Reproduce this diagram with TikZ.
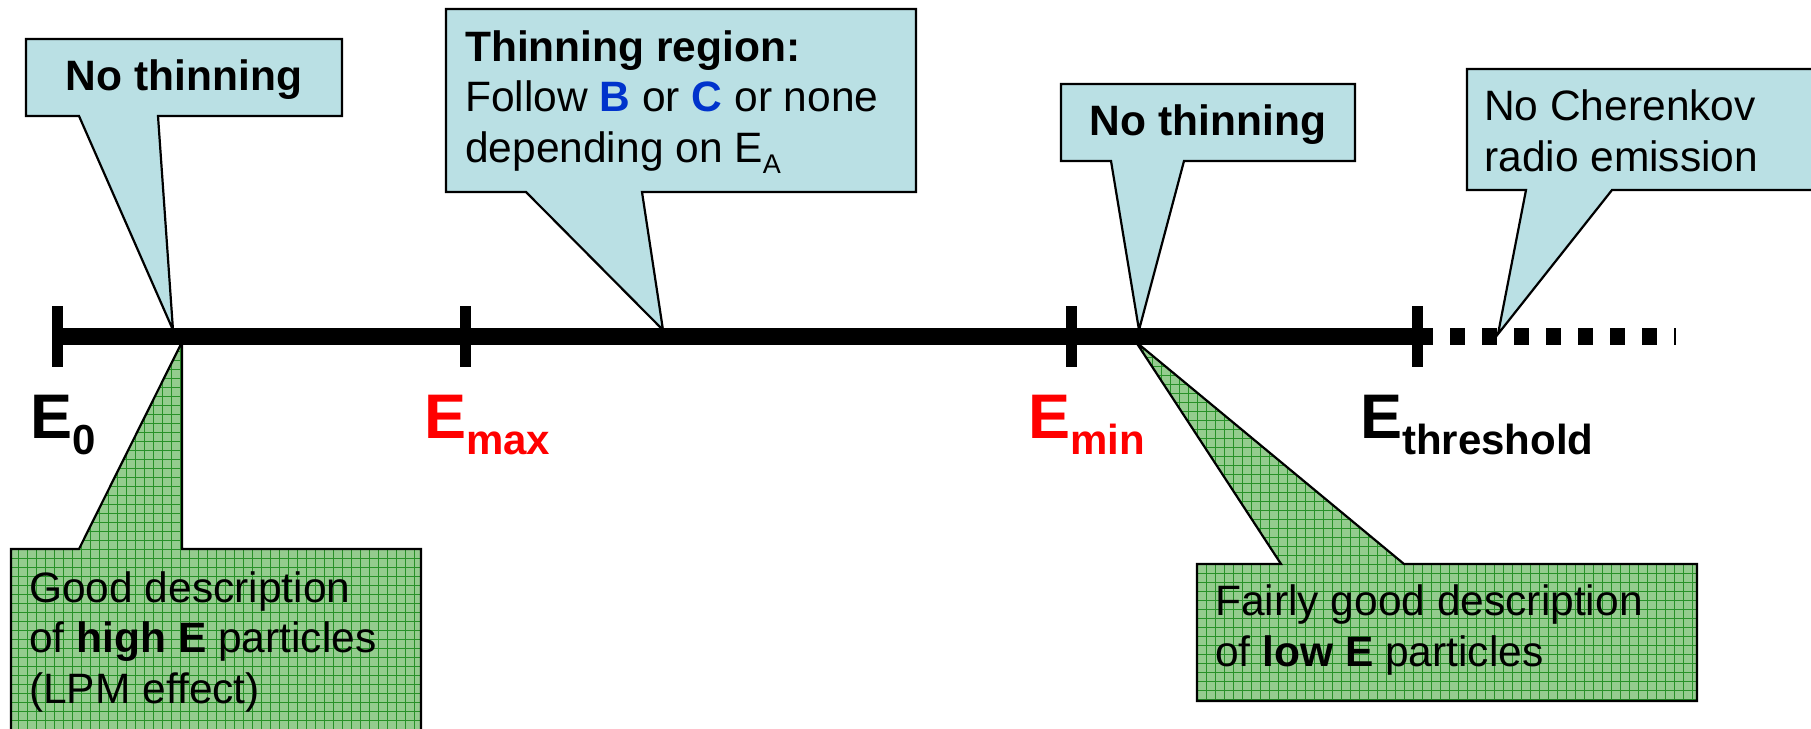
\documentclass[tikz,border=0pt]{standalone}
\usepackage{fontspec}
\setmainfont{Liberation Sans}
\definecolor{calloutblue}{RGB}{186,224,228}
\definecolor{notegreen}{RGB}{148,204,142}
\definecolor{gridgreen}{RGB}{40,145,40}
\definecolor{letterblue}{RGB}{0,51,204}
\definecolor{labelred}{RGB}{255,0,0}
% energy label: big E with a lowered subscript
\newcommand{\energylabel}[1]{E\raisebox{-16pt}{\fontsize{42}{42}\selectfont #1}}
% grid hatching of the green notes, inside the box x1..x2, y1..y2 (9pt raster)
\newcommand{\notegrid}[4]{%
  \foreach \gx in {#1,\the\numexpr#1+9\relax,...,#2} \draw[gridlines] (\gx,#3) -- (\gx,#4);
  \foreach \gy in {#3,\the\numexpr#3+9\relax,...,#4} \draw[gridlines] (#1,\gy) -- (#2,\gy);}
\begin{document}
\begin{tikzpicture}[x=1pt,y=-1pt,
  bluecallout/.style={draw=black,line width=2.2pt,fill=calloutblue,line join=miter},
  greenedge/.style={draw=black,line width=2.2pt,line join=miter},
  gridlines/.style={draw=gridgreen,line width=0.8pt},
  bodytext/.style={font=\fontsize{42.5}{50.5}\selectfont,inner sep=0pt,anchor=base west,align=left},
  boldtext/.style={font=\fontsize{42.5}{50.5}\selectfont\bfseries,inner sep=0pt,anchor=base},
  elabel/.style={font=\fontsize{63}{63}\selectfont\bfseries,inner sep=0pt,anchor=base west},
  axisline/.style={line width=17pt},
  tickline/.style={line width=11pt},
  dotline/.style={line width=17pt,dash pattern=on 15pt off 17pt,dash phase=15pt}]
\useasboundingbox (0,0) rectangle (1811,728);
\clip (0,0) rectangle (1811,728);

% points on the energy axis
\coordinate (axisstart) at (52,336);
\coordinate (axisend) at (1433,336);
\coordinate (dotend) at (1676,336);
\coordinate (tipA) at (173,330);
\coordinate (tipB) at (663,330);
\coordinate (tipC) at (1139,330);
\coordinate (tipD) at (1498,334);
\coordinate (tipG1) at (182,342);
\coordinate (tipG2) at (1136,342);

% green notes below the axis (grid-patterned fill)
\def\greenone{(11,549) -- (79,549) -- (tipG1) -- (182,549) -- (421,549) -- (421,745) -- (11,745) -- cycle}
\def\greentwo{(1197,564) -- (1281,564) -- (tipG2) -- (1404,564) -- (1697,564) -- (1697,701) -- (1197,701) -- cycle}
\begin{scope}
  \clip \greenone;
  \fill[notegreen] (0,300) rectangle (440,750);
  \notegrid{0}{441}{297}{747}
\end{scope}
\draw[greenedge] \greenone;
\begin{scope}
  \clip \greentwo;
  \fill[notegreen] (1100,330) rectangle (1710,710);
  \notegrid{1098}{1710}{330}{708}
\end{scope}
\draw[greenedge] \greentwo;

% blue callouts above the axis
\draw[bluecallout] (26,39) -- (342,39) -- (342,116) -- (158,116) -- (tipA) -- (79,116) -- (26,116) -- cycle;
\draw[bluecallout] (446,9) -- (916,9) -- (916,192) -- (642,192) -- (tipB) -- (526,192) -- (446,192) -- cycle;
\draw[bluecallout] (1061,84) -- (1355,84) -- (1355,161) -- (1184,161) -- (tipC) -- (1111,161) -- (1061,161) -- cycle;
\draw[bluecallout] (1467,69) -- (1830,69) -- (1830,190) -- (1612,190) -- (tipD) -- (1526,190) -- (1467,190) -- cycle;

% the energy axis with its ticks
\draw[axisline] (axisstart) -- (axisend);
\draw[dotline] (axisend) -- (dotend);
\foreach \tx in {57.5,465,1071,1417}
  \draw[tickline] (\tx,306) -- (\tx,367);

% axis labels
\node[elabel] (ezero) at (30,438) {\energylabel{0}};
\node[elabel,text=labelred] (emax) at (424,438) {\energylabel{max}};
\node[elabel,text=labelred] (emin) at (1028,438) {\energylabel{min}};
\node[elabel] (ethr) at (1360,438) {\energylabel{threshold}};

% callout texts (multi-line nodes sit on the baseline of their last line)
\node[boldtext] (nothinA) at (184,90) {No thinning};
\node[boldtext] (nothinB) at (1208,135) {No thinning};
\node[bodytext] (thinreg) at (465,162) {\textbf{Thinning region:}\\
  Follow \textcolor{letterblue}{\textbf{B}} or \textcolor{letterblue}{\textbf{C}} or none\\
  depending on E\raisebox{-11pt}{\fontsize{27}{27}\selectfont A}};
\node[bodytext] (cherenkov) at (1484,171) {No Cherenkov\\radio emission};
\node[bodytext] (highE) at (29,703) {Good description\\of \textbf{high E} particles\\(LPM effect)};
\node[bodytext] (lowE) at (1215,666) {Fairly good description\\of \textbf{low E} particles};
\end{tikzpicture}
\end{document}
